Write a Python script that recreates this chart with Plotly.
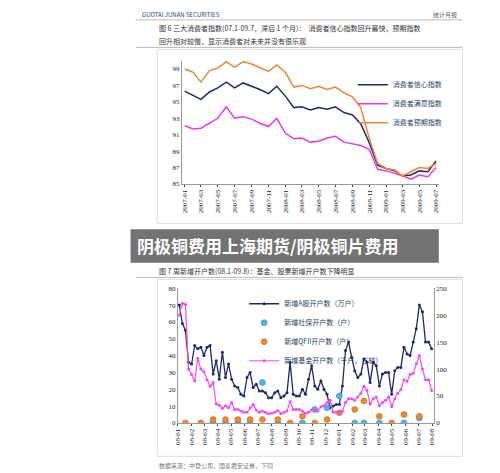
import pandas as pd
import plotly.graph_objects as go

# top chart: monthly consumer indices 2007-01 .. 2009-07
months = pd.date_range("2007-01-01", "2009-07-01", freq="MS")
confidence = [96.3, 95.8, 95.3, 96.2, 96.7, 97.4, 96.7, 97.3, 96.9, 96.5, 96.0, 96.9, 95.7, 94.3, 94.4, 94.0,
              94.3, 94.1, 94.4, 93.7, 93.4, 92.3, 90.0, 87.3, 86.9, 86.6, 86.0, 86.1, 86.6, 86.5, 87.8]
satisfaction = [92.1, 91.7, 91.8, 92.4, 93.0, 94.4, 93.0, 93.2, 92.9, 92.4, 92.0, 93.0, 91.2, 90.5, 90.6, 90.1,
                90.2, 90.6, 90.8, 90.1, 89.9, 89.7, 89.2, 86.8, 86.6, 86.3, 86.0, 85.6, 86.1, 85.9, 87.0]
expectation = [99.0, 98.6, 97.4, 98.8, 99.1, 99.9, 99.2, 99.9, 99.6, 99.2, 98.7, 99.5, 98.6, 96.8, 97.0, 96.6,
               96.9, 96.5, 96.8, 96.1, 95.6, 94.3, 90.5, 87.5, 86.9, 86.7, 86.0, 86.5, 87.0, 86.9, 87.5]
top_ticks = [m.strftime("%Y-%m") for m in months[::2]]

# bottom chart: weekly new accounts 2008-01 .. 2009-08
a_shares = [70, 59, 55, 36, 35, 46, 44, 45, 40, 45, 46, 29, 37, 26, 42, 27, 35, 26, 22, 21, 17, 16, 27, 30, 21,
            23, 19, 19, 18, 15, 15, 18, 19, 15, 16, 18, 36, 17, 16, 16, 20, 17, 26, 34, 22, 20, 25, 20, 17, 9,
            10, 11, 11, 22, 43, 48, 39, 31, 27, 29, 38, 36, 24, 36, 34, 22, 29, 30, 30, 17, 31, 33, 33, 45, 41,
            40, 48, 56, 70, 66, 48, 48, 44]
funds = [200, 222, 220, 100, 90, 78, 120, 100, 95, 80, 68, 75, 35, 33, 27, 32, 28, 38, 25, 25, 22, 20, 20, 28, 34,
         24, 20, 22, 20, 17, 18, 20, 23, 17, 20, 22, 40, 25, 25, 25, 22, 18, 20, 24, 25, 22, 30, 32, 38, 42,
         20, 20, 20, 22, 38, 45, 45, 42, 48, 55, 68, 60, 35, 45, 48, 32, 38, 42, 48, 30, 45, 55, 62, 80, 77,
         90, 92, 110, 125, 100, 80, 80, 60]
weeks = pd.date_range("2008-01-04", periods=len(a_shares), freq="7D")
ss_week = [11, 15, 19, 23, 27, 32, 40, 44, 48, 52, 57, 60, 65, 73, 78]
ss_val = [0, 0, 0, 0, 24, 0, 0, 8, 9, 16, 0, 0, 0, 0, 3]
qfii_week = [2, 7, 11, 15, 19, 23, 27, 32, 36, 40, 44, 48, 52, 57, 60, 65, 69, 73, 78]
qfii_val = [0, 0, 2, 2, 2, 2, 2, 2, 0, 4, 0, 2, 6, 8, 13, 4, 0, 5, 4]

font = "Noto Sans CJK SC"
fig = go.Figure()
fig.add_trace(go.Scatter(x=months, y=confidence, mode="lines", name="消费者信心指数",
                         line=dict(color="#1f2a6b", width=1.5), legend="legend"))
fig.add_trace(go.Scatter(x=months, y=satisfaction, mode="lines", name="消费者满意指数",
                         line=dict(color="#e23ee6", width=1.5), legend="legend"))
fig.add_trace(go.Scatter(x=months, y=expectation, mode="lines", name="消费者预期指数",
                         line=dict(color="#e8873a", width=1.5), legend="legend"))

fig.add_trace(go.Scatter(x=weeks, y=a_shares, mode="lines+markers", name="新增A股开户数（万户）",
                         line=dict(color="#1f2a6b", width=1.3), marker=dict(size=3),
                         xaxis="x2", yaxis="y2", legend="legend2"))
fig.add_trace(go.Scatter(x=weeks[ss_week], y=ss_val, mode="markers", name="新增社保开户数（户）",
                         marker=dict(color="#4fb6e3", size=6, line=dict(color="#2a7fae", width=0.5)),
                         xaxis="x2", yaxis="y2", legend="legend2"))
fig.add_trace(go.Scatter(x=weeks[qfii_week], y=qfii_val, mode="markers", name="新增QFII开户数（户）",
                         marker=dict(color="#ea8c2c", size=6, line=dict(color="#b8651a", width=0.5)),
                         xaxis="x2", yaxis="y2", legend="legend2"))
fig.add_trace(go.Scatter(x=weeks, y=funds, mode="lines+markers", name="新增基金开户数（千户，右轴）",
                         line=dict(color="#f04cf0", width=1.2), marker=dict(size=3),
                         xaxis="x2", yaxis="y3", legend="legend2"))

tickfont = dict(family="Liberation Serif", size=7, color="#222")
fig.update_layout(
    width=500, height=473, margin=dict(l=0, r=0, t=0, b=0),
    paper_bgcolor="white", plot_bgcolor="white", font=dict(family=font),
    xaxis=dict(domain=[172/500, 432/500], anchor="y", tickvals=months[::2], ticktext=top_ticks,
               tickangle=-90, tickfont=tickfont, showgrid=False, showline=True, linecolor="#999",
               ticks="outside", ticklen=2, range=[months[0] - pd.Timedelta(days=10), months[-1] + pd.Timedelta(days=10)]),
    yaxis=dict(domain=[1 - 175/473, 1 - 49.6/473], range=[85, 100], tickvals=list(range(85, 100, 2)),
               tickfont=tickfont, showgrid=False, showline=True, linecolor="#999"),
    xaxis2=dict(domain=[168/500, 427/500], anchor="y2", tickformat="%y-%m", dtick="M1",
                tickangle=-90, tickfont=tickfont, showgrid=False, showline=True, linecolor="#999",
                ticks="outside", ticklen=2, range=[weeks[0] - pd.Timedelta(days=3), weeks[-1] + pd.Timedelta(days=5)]),
    yaxis2=dict(domain=[1 - 418/473, 1 - 281/473], range=[0, 80], dtick=10, anchor="x2",
                tickfont=tickfont, showgrid=False, showline=True, linecolor="#999"),
    yaxis3=dict(range=[0, 250], dtick=50, overlaying="y2", side="right", anchor="x2",
                tickfont=tickfont, showgrid=False, showline=True, linecolor="#999"),
    legend=dict(x=0.69, y=0.875, yanchor="top", bgcolor="rgba(0,0,0,0)", font=dict(size=7), tracegroupgap=0),
    legend2=dict(x=0.47, y=1 - 282/473, yanchor="top", bgcolor="rgba(0,0,0,0)", font=dict(size=7),
                 tracegroupgap=0, itemwidth=30),
)

# page frame lines and chart boxes
for y0, y1 in [(38, 215), (272, 452)]:
    fig.add_shape(type="rect", xref="paper", yref="paper", x0=147/500, x1=456/500,
                  y0=1 - y1/473, y1=1 - y0/473, line=dict(color="#ddd", width=1))
for y in [8, 36, 270]:
    fig.add_shape(type="line", xref="paper", yref="paper", x0=125/500, x1=456/500,
                  y0=1 - y/473, y1=1 - y/473, line=dict(color="#bbb", width=1))

texts = [
    (130, 3, "GUOTAI JUNAN SECURITIES", 6, "#1f3f8a", "left"),
    (452, 3, "统计月报", 6, "#666", "right"),
    (147, 16, "图 6 三大消费者指数(07.1-09.7，滞后 1 个月)：  消费者信心指数回升最快，预期指数", 7, "#333", "left"),
    (147, 29, "回升相对较慢，显示消费者对未来并没有很乐观", 7, "#333", "left"),
    (147, 263, "图 7 周新增开户数(08.1-09.8)：基金、股票新增开户数下降明显", 7, "#333", "left"),
    (147, 461, "数据来源：中登公司，国泰君安证券，下同", 6, "#777", "left"),
]
for x, y, t, s, c, a in texts:
    fig.add_annotation(x=x/500, y=1 - y/473, xref="paper", yref="paper", text=t, showarrow=False,
                       xanchor=a, yanchor="middle", font=dict(size=s, color=c, family=font))

# grey banner over the page
fig.add_shape(type="rect", xref="paper", yref="paper", x0=120/500, x1=432/500,
              y0=1 - 255/473, y1=1 - 221/473, fillcolor="rgba(90,90,90,0.85)", line_width=0)
fig.add_annotation(x=124/500, y=1 - 238/473, xref="paper", yref="paper", text="<b>阴极铜费用上海期货/阴极铜片费用</b>",
                   showarrow=False, xanchor="left", yanchor="middle",
                   font=dict(size=17, color="white", family=font))

fig.write_html("out.html")
